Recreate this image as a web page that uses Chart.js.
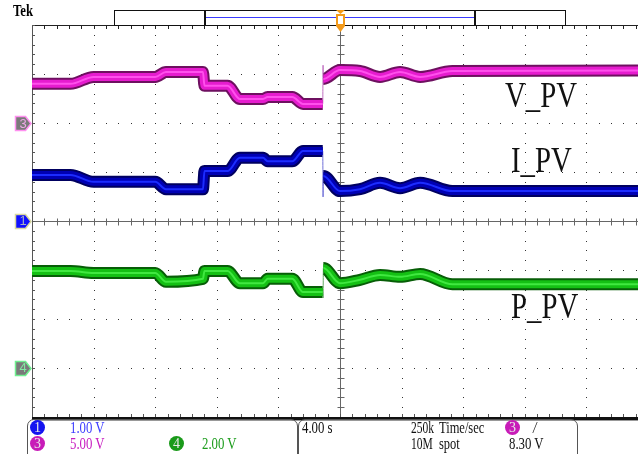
<!DOCTYPE html>
<html>
<head>
<meta charset="utf-8">
<script src="https://cdn.jsdelivr.net/npm/chart.js@4.4.1/dist/chart.umd.min.js"></script>
<style>
  html, body { margin: 0; padding: 0; background: #fff; width: 638px; height: 454px; overflow: hidden; }
  #wrap { position: relative; width: 638px; height: 454px; }
  #scope { position: absolute; left: 0; top: 0; }
  .t { position: absolute; font-family: 'Liberation Serif', serif; font-size: 16px; line-height: 16px;
       transform: scaleX(0.8); transform-origin: 0 0; white-space: nowrap; }
  .lbl { position: absolute; font-family: 'Liberation Serif', serif; font-size: 36px; line-height: 36px;
         transform: scaleX(0.8); transform-origin: 0 0; white-space: nowrap; color: #111; }
  .c { position: absolute; width: 15px; height: 15px; border-radius: 50%; color: #e8e8e8; text-align: center;
       font-family: 'Liberation Serif', serif; font-size: 14px; line-height: 15px; }
  .box { position: absolute; top: 419px; height: 40px; border: 1px solid #555; border-radius: 7px; }
  .mk { position: absolute; left: 18px; width: 10px; font-family: 'Liberation Sans', sans-serif; font-size: 13px;
        line-height: 14px; text-align: center; }
</style>
</head>
<body>
<div id="wrap">
  <canvas id="scope" width="638" height="454"></canvas>

  <div class="t" style="left:13px; top:3px; font-size:17px; font-weight:bold; transform:scaleX(0.75);">Tek</div>

  <div class="lbl" style="left:505px; top:77px;">V_PV</div>
  <div class="lbl" style="left:511px; top:142px;">I_PV</div>
  <div class="lbl" style="left:511px; top:288px;">P_PV</div>

  <div class="mk" style="top:117px; color:#f0a8e8;">3</div>
  <div class="mk" style="top:214px; color:#a8b0c0;">1</div>
  <div class="mk" style="top:361px; color:#80e8a0;">4</div>

  <div class="box" style="left:27px; width:269px;"></div>
  <div class="box" style="left:298px; width:278px;"></div>

  <div class="c" style="left:30px; top:420px; background:#1414f0;">1</div>
  <div class="t" style="left:70px; top:420px; color:#3c3cff;">1.00 V</div>
  <div class="c" style="left:30px; top:436px; background:#c81cb8;">3</div>
  <div class="t" style="left:70px; top:436px; color:#c81cc0;">5.00 V</div>
  <div class="c" style="left:169px; top:436px; background:#1a9a1a;">4</div>
  <div class="t" style="left:202px; top:436px; color:#1c9c1c;">2.00 V</div>

  <div class="t" style="left:302px; top:420px; color:#111;">4.00 s</div>
  <div class="t" style="left:411px; top:420px; color:#111; transform:scaleX(0.72);">250k</div>
  <div class="t" style="left:439px; top:420px; color:#111; transform:scaleX(0.78);">Time/sec</div>
  <div class="t" style="left:411px; top:436px; color:#111; transform:scaleX(0.72);">10M</div>
  <div class="t" style="left:439px; top:436px; color:#111; transform:scaleX(0.78);">spot</div>
  <div class="c" style="left:505px; top:420px; background:#c81cb8;">3</div>
  <div class="t" style="left:533px; top:420px; color:#111; font-style:italic;">/</div>
  <div class="t" style="left:509px; top:436px; color:#111;">8.30 V</div>
</div>

<script>
// time axis in seconds (4 s/div), vertical in screen divisions
const timeS = [-20, -17.5, -16.0, -12.0, -11.3, -8.9, -8.8, -7.3, -6.5, -5.0, -4.7, -3.1, -2.4,
               -1.12, -1.10, -1.08, 0, 1.3, 2.6, 3.9, 5.2, 7.3, 19.35];
const vPV = [2.80, 2.80, 2.94, 2.94, 3.04, 3.04, 2.76, 2.76, 2.49, 2.49, 2.53, 2.53, 2.39,
             2.39, 3.18, 2.90, 3.08, 3.06, 2.94, 3.04, 2.94, 3.06, 3.07];
const iPV = [0.94, 0.94, 0.80, 0.80, 0.65, 0.65, 1.02, 1.02, 1.29, 1.29, 1.22, 1.22, 1.43,
             1.43, 0.49, 0.92, 0.61, 0.65, 0.78, 0.67, 0.78, 0.61, 0.61];
const pPV = [-1.02, -1.02, -1.06, -1.06, -1.24, -1.18, -1.02, -1.02, -1.27, -1.27, -1.18, -1.18, -1.45,
             -1.45, -1.57, -0.96, -1.27, -1.20, -1.10, -1.14, -1.08, -1.29, -1.29];

const xMin = -20, xMax = 19.35, xDiv = 4;
const yMin = -4, yMax = 4;
const chGround = [{ d: 2, fill: '#7a7a7a', edge: '#ff90f0' },
                  { d: 0, fill: '#1010ff', edge: '#d8d8a0' },
                  { d: -3, fill: '#7a7a7a', edge: '#70f090' }];

function pts(vals) {
  return timeS.map((t, i) => ({ x: t, y: vals[i] }));
}

// the fast jump right before t=0 shows up as a thin line on the scope
function isSpike(c) {
  return c.p1.parsed.x - c.p0.parsed.x < 0.03;
}

// first dataset ends up on top, so the bright core goes first
function trace(vals, dark, mid, hi, thin) {
  const base = { data: pts(vals), pointRadius: 0, cubicInterpolationMode: 'monotone', borderJoinStyle: 'round' };
  return [
    Object.assign({}, base, { borderColor: hi, borderWidth: 2,
      segment: { borderColor: c => isSpike(c) ? 'transparent' : hi } }),
    Object.assign({}, base, { borderColor: mid, borderWidth: 8,
      segment: { borderColor: c => isSpike(c) ? 'transparent' : mid } }),
    Object.assign({}, base, { borderColor: dark, borderWidth: 12,
      segment: { borderWidth: c => isSpike(c) ? 1 : 12, borderColor: c => isSpike(c) ? thin : dark } })
  ];
}

const graticule = {
  id: 'graticule',
  beforeDatasetsDraw(chart) {
    const { ctx, chartArea: a, scales: { x, y } } = chart;
    ctx.save();
    const xMinor = [], yMinor = [];
    for (let t = xMin; t <= xMax + 0.001; t += xDiv / 5) xMinor.push(Math.round(x.getPixelForValue(t)));
    for (let d = yMin; d <= yMax + 0.001; d += 0.2) yMinor.push(Math.round(y.getPixelForValue(d)));

    // dotted division lines
    ctx.fillStyle = '#333';
    for (let t = xMin + xDiv; t < xMax; t += xDiv) {
      if (Math.abs(t) < 0.01) continue;
      const px = Math.round(x.getPixelForValue(t));
      yMinor.forEach(py => ctx.fillRect(px, py, 1, 1));
    }
    for (let d = yMin + 1; d < yMax; d++) {
      if (d === 0) continue;
      const py = Math.round(y.getPixelForValue(d));
      xMinor.forEach(px => ctx.fillRect(px, py, 1, 1));
    }

    // centre cross with ticks
    const cx = Math.round(x.getPixelForValue(0)) + 0.5;
    const cy = Math.round(y.getPixelForValue(0)) + 0.5;
    ctx.strokeStyle = '#666';
    ctx.lineWidth = 1;
    ctx.beginPath();
    ctx.moveTo(a.left, cy); ctx.lineTo(a.right, cy);
    ctx.moveTo(cx, a.top); ctx.lineTo(cx, a.bottom);
    xMinor.forEach(px => { ctx.moveTo(px + 0.5, cy - 3); ctx.lineTo(px + 0.5, cy + 4); });
    yMinor.forEach(py => { ctx.moveTo(cx - 3, py + 0.5); ctx.lineTo(cx + 4, py + 0.5); });
    ctx.stroke();

    // frame
    ctx.strokeStyle = '#222';
    ctx.beginPath();
    ctx.moveTo(a.left, a.top + 0.5); ctx.lineTo(a.right, a.top + 0.5);
    xMinor.forEach(px => { ctx.moveTo(px + 0.5, a.top); ctx.lineTo(px + 0.5, a.top + 4); });
    ctx.stroke();
    ctx.strokeStyle = '#555';
    ctx.beginPath();
    ctx.moveTo(a.left + 0.5, a.top); ctx.lineTo(a.left + 0.5, a.bottom);
    yMinor.forEach(py => { ctx.moveTo(a.left, py + 0.5); ctx.lineTo(a.left + 3, py + 0.5); });
    xMinor.forEach(px => { ctx.moveTo(px + 0.5, a.bottom - 3); ctx.lineTo(px + 0.5, a.bottom); });
    ctx.stroke();
    ctx.fillStyle = '#111';
    ctx.fillRect(a.left, a.bottom, a.right - a.left, 3);
    ctx.fillStyle = '#999';
    ctx.fillRect(a.left + 3, a.bottom + 3, a.right - a.left, 1);
    ctx.restore();
  },
  afterDraw(chart) {
    const { ctx, chartArea: a, scales: { x, y } } = chart;
    ctx.save();
    // channel ground markers
    chGround.forEach(ch => {
      const cy = Math.round(y.getPixelForValue(ch.d)) + 0.5;
      ctx.beginPath();
      ctx.moveTo(15.5, cy - 7); ctx.lineTo(25.5, cy - 7); ctx.lineTo(31, cy);
      ctx.lineTo(25.5, cy + 7); ctx.lineTo(15.5, cy + 7); ctx.closePath();
      ctx.fillStyle = ch.fill; ctx.fill();
      ctx.strokeStyle = ch.edge; ctx.lineWidth = 1.5; ctx.stroke();
    });

    // record view bar
    ctx.strokeStyle = '#111';
    ctx.lineWidth = 1;
    ctx.strokeRect(114.5, 10.5, 451, 15);
    ctx.fillStyle = '#111';
    ctx.fillRect(204, 10, 2, 16);
    ctx.fillRect(474, 10, 2, 16);
    ctx.strokeStyle = '#3a3aff';
    ctx.beginPath(); ctx.moveTo(206, 17.5); ctx.lineTo(474, 17.5); ctx.stroke();

    // trigger position marker
    const tx = Math.round(x.getPixelForValue(0));
    ctx.fillStyle = '#f39a1a';
    ctx.beginPath(); ctx.moveTo(tx - 4, 10); ctx.lineTo(tx + 5, 10); ctx.lineTo(tx + 0.5, 14); ctx.fill();
    ctx.fillRect(tx - 4, 14, 9, 12);
    ctx.fillStyle = '#fff';
    ctx.fillRect(tx - 2, 16, 5, 8);
    ctx.fillStyle = '#f39a1a';
    ctx.beginPath(); ctx.moveTo(tx - 4, 26); ctx.lineTo(tx + 5, 26); ctx.lineTo(tx + 0.5, 32); ctx.fill();
    ctx.restore();
  }
};

new Chart(document.getElementById('scope'), {
  type: 'line',
  data: {
    datasets: [
      ...trace(vPV, '#6e1060', '#e61ccf', '#ff50ec', '#c070c0'),
      ...trace(iPV, '#000060', '#0000b4', '#1c2cff', '#7070d8'),
      ...trace(pPV, '#075e07', '#14c014', '#40e840', '#60a860')
    ]
  },
  options: {
    responsive: false,
    devicePixelRatio: 1,
    animation: false,
    events: [],
    layout: { padding: { left: 32, top: 25, right: 0, bottom: 37 } },
    scales: {
      x: { type: 'linear', min: xMin, max: xMax, display: false },
      y: { type: 'linear', min: yMin, max: yMax, display: false }
    },
    plugins: { legend: { display: false }, tooltip: { enabled: false } }
  },
  plugins: [graticule]
});
</script>
</body>
</html>
